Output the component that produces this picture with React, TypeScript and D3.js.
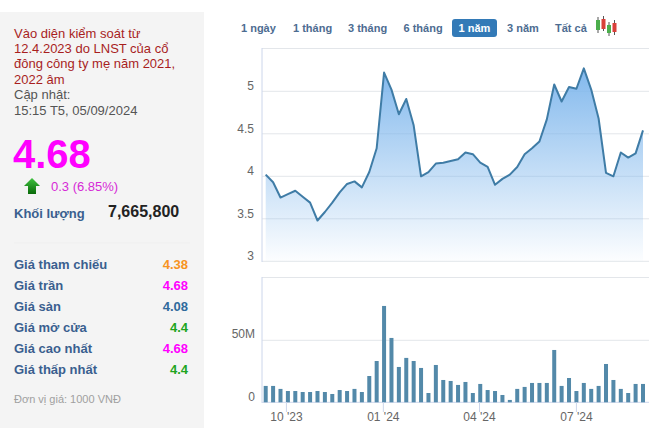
import React from "react";
import * as d3 from "d3";

const prices = [4.02,3.93,3.75,3.79,3.83,3.76,3.69,3.48,3.58,3.69,3.81,3.91,3.94,3.87,4.05,4.33,5.22,5.02,4.73,4.91,4.6,4.0,4.05,4.15,4.16,4.18,4.2,4.28,4.26,4.16,4.11,3.9,3.97,4.02,4.11,4.26,4.33,4.41,4.67,5.08,4.88,5.05,5.03,5.27,5.02,4.68,4.04,4.0,4.28,4.22,4.27,4.54];
const volumes = [13.2,13.2,10.8,9.1,9.1,8.3,8.3,9.1,8.3,6.7,9.9,9.1,10.8,8.3,21.2,33.3,77.7,51.9,28.5,35.8,33.3,27.7,7.5,30.1,18,17.2,14,16.4,7.5,14.8,9.9,9.1,5.9,1.9,10.8,12.4,15.6,15.6,15.6,42.2,13.2,19.6,9.1,15.6,10.8,13.2,30.9,18,10.8,7.5,14.8,14.8];
const priceTicks = [3, 3.5, 4, 4.5, 5];
const volumeTicks = [0, 50];
const dateTicks = [{ label: "10 '23", at: 2.8 }, { label: "01 '24", at: 15.9 }, { label: "04 '24", at: 28.9 }, { label: "07 '24", at: 42 }];
const periods = [{ t: "1 ngày", x: 241 }, { t: "1 tháng", x: 293 }, { t: "3 tháng", x: 348 }, { t: "6 tháng", x: 403.5 }, { t: "3 năm", x: 507 }, { t: "Tất cả", x: 555 }];
const noteLines = ["Vào diện kiểm soát từ", "12.4.2023 do LNST của cổ", "đông công ty mẹ năm 2021,", "2022 âm"];
const updateLines = ["Cập nhật:", "15:15 T5, 05/09/2024"];
const stats = [
  { k: "Giá tham chiếu", v: "4.38", c: "#f7931e" },
  { k: "Giá trần", v: "4.68", c: "#ff00ff" },
  { k: "Giá sàn", v: "4.08", c: "#2f6a9c" },
  { k: "Giá mở cửa", v: "4.4", c: "#1ea51e" },
  { k: "Giá cao nhất", v: "4.68", c: "#ff00ff" },
  { k: "Giá thấp nhất", v: "4.4", c: "#1ea51e" },
];
const candles = [
  { x: 598, y0: 20, y1: 30, w0: 17, w1: 33, c: "#4cae4c" },
  { x: 603.5, y0: 19, y1: 29, w0: 16, w1: 31, c: "#d9403a" },
  { x: 609, y0: 25, y1: 33, w0: 22, w1: 36, c: "#4cae4c" },
  { x: 614.5, y0: 23, y1: 32, w0: 20, w1: 35, c: "#d9403a" },
];

const x = d3.scaleLinear().domain([0, prices.length - 1]).range([265.7, 643]);
const yP = d3.scaleLinear().domain([3, 5]).range([261.3, 91.3]);
const yV = d3.scaleLinear().domain([0, 50]).range([402.3, 340.3]);
const FONT = "Arial, 'Liberation Sans', sans-serif";
const GRID = "#e3e6ea";
const AXIS = "#ccd6eb";
const LABEL = "#666666";
const NAVY = "#3a5f8f";

export default function App() {
  const line = d3.line<number>().x((_, i) => x(i)).y((d) => yP(d));
  const area = d3.area<number>().x((_, i) => x(i)).y0(yP(3)).y1((d) => yP(d));
  return (
    <svg width={656} height={428} style={{ position: "absolute", left: 0, top: 0, fontFamily: FONT }}>
      <defs>
        <linearGradient id="areaFill" x1="0" y1="0" x2="0" y2="1">
          <stop offset="0" stopColor="#7cb5ec" stopOpacity={0.95} />
          <stop offset="1" stopColor="#7cb5ec" stopOpacity={0.02} />
        </linearGradient>
        <linearGradient id="arrowFill" x1="0" y1="0" x2="0" y2="1">
          <stop offset="0" stopColor="#3fc23f" />
          <stop offset="1" stopColor="#0a6a0a" />
        </linearGradient>
      </defs>
      <rect width={656} height={428} fill="#fff" />
      <rect x={0} y={12} width={204} height={416} fill="#f4f4f4" />

      {noteLines.map((t, i) => (
        <text key={t} x={14} y={38 + i * 15.2} fontSize={13} fill="#a81e1e">{t}</text>
      ))}
      {updateLines.map((t, i) => (
        <text key={t} x={14} y={99 + i * 15.5} fontSize={13} fill="#555">{t}</text>
      ))}
      <text x={13} y={168} fontSize={40} fontWeight="bold" fill="#ff00ff">4.68</text>
      <polygon points="32,178 40,186 36,186 36,194 28,194 28,186 24,186" fill="url(#arrowFill)" />
      <text x={51} y={191} fontSize={13} fill="#d62ad6">0.3 (6.85%)</text>
      <text x={14} y={218} fontSize={13} fontWeight="bold" fill={NAVY}>Khối lượng</text>
      <text x={108} y={217} fontSize={16} fontWeight="bold" fill="#222">7,665,800</text>
      <line x1={14} x2={190} y1={243} y2={243} stroke="#efefef" />
      {stats.map((s, i) => (
        <g key={s.k}>
          <text x={14} y={269 + i * 21} fontSize={13} fontWeight="bold" fill={NAVY}>{s.k}</text>
          <text x={188} y={269 + i * 21} fontSize={13} fontWeight="bold" fill={s.c} textAnchor="end">{s.v}</text>
        </g>
      ))}
      <text x={14} y={403} fontSize={11} fill="#a0a0a0">Đơn vị giá: 1000 VNĐ</text>

      {periods.map((p) => (
        <text key={p.t} x={p.x} y={32} fontSize={11} fontWeight="bold" fill="#4d6c91">{p.t}</text>
      ))}
      <rect x={452} y={19} width={45} height={18} rx={3} fill="#337ab7" />
      <text x={474.5} y={32} fontSize={11} fontWeight="bold" fill="#fff" textAnchor="middle">1 năm</text>
      {candles.map((c) => (
        <g key={c.x}>
          <line x1={c.x} x2={c.x} y1={c.w0} y2={c.w1} stroke="#555" />
          <rect x={c.x - 2} y={c.y0} width={4} height={c.y1 - c.y0} fill={c.c} />
        </g>
      ))}

      {/* price panel */}
      <line x1={262} x2={649} y1={48.5} y2={48.5} stroke={GRID} />
      {priceTicks.map((t) => (
        <g key={t}>
          <line x1={262} x2={649} y1={yP(t)} y2={yP(t)} stroke={GRID} />
          <text x={254} y={yP(t) - 1} fontSize={12} fill={LABEL} textAnchor="end">{t}</text>
        </g>
      ))}
      <line x1={262} x2={262} y1={48} y2={262} stroke={AXIS} />
      <path d={area(prices) ?? ""} fill="url(#areaFill)" />
      <path d={line(prices) ?? ""} fill="none" stroke="#3f7ca6" strokeWidth={2} strokeLinejoin="round" />

      {/* volume panel */}
      <line x1={262} x2={649} y1={277.5} y2={277.5} stroke={GRID} />
      {volumeTicks.map((t) => (
        <g key={t}>
          <line x1={262} x2={649} y1={yV(t)} y2={yV(t)} stroke={t === 0 ? AXIS : GRID} />
          <text x={255} y={yV(t) - (t === 0 ? 1 : 2)} fontSize={12} fill={LABEL} textAnchor="end">{t === 0 ? "0" : `${t}M`}</text>
        </g>
      ))}
      <line x1={262} x2={262} y1={277} y2={403} stroke={AXIS} />
      {volumes.map((v, i) => (
        <rect key={i} x={x(i) - 2} y={yV(v)} width={4} height={yV(0) - yV(v)} fill="#5389a9" />
      ))}
      {dateTicks.map((d) => (
        <g key={d.label}>
          <line x1={x(d.at)} x2={x(d.at)} y1={402} y2={412} stroke={AXIS} />
          <text x={x(d.at)} y={421} fontSize={12} fill={LABEL} textAnchor="middle">{d.label}</text>
        </g>
      ))}
    </svg>
  );
}
